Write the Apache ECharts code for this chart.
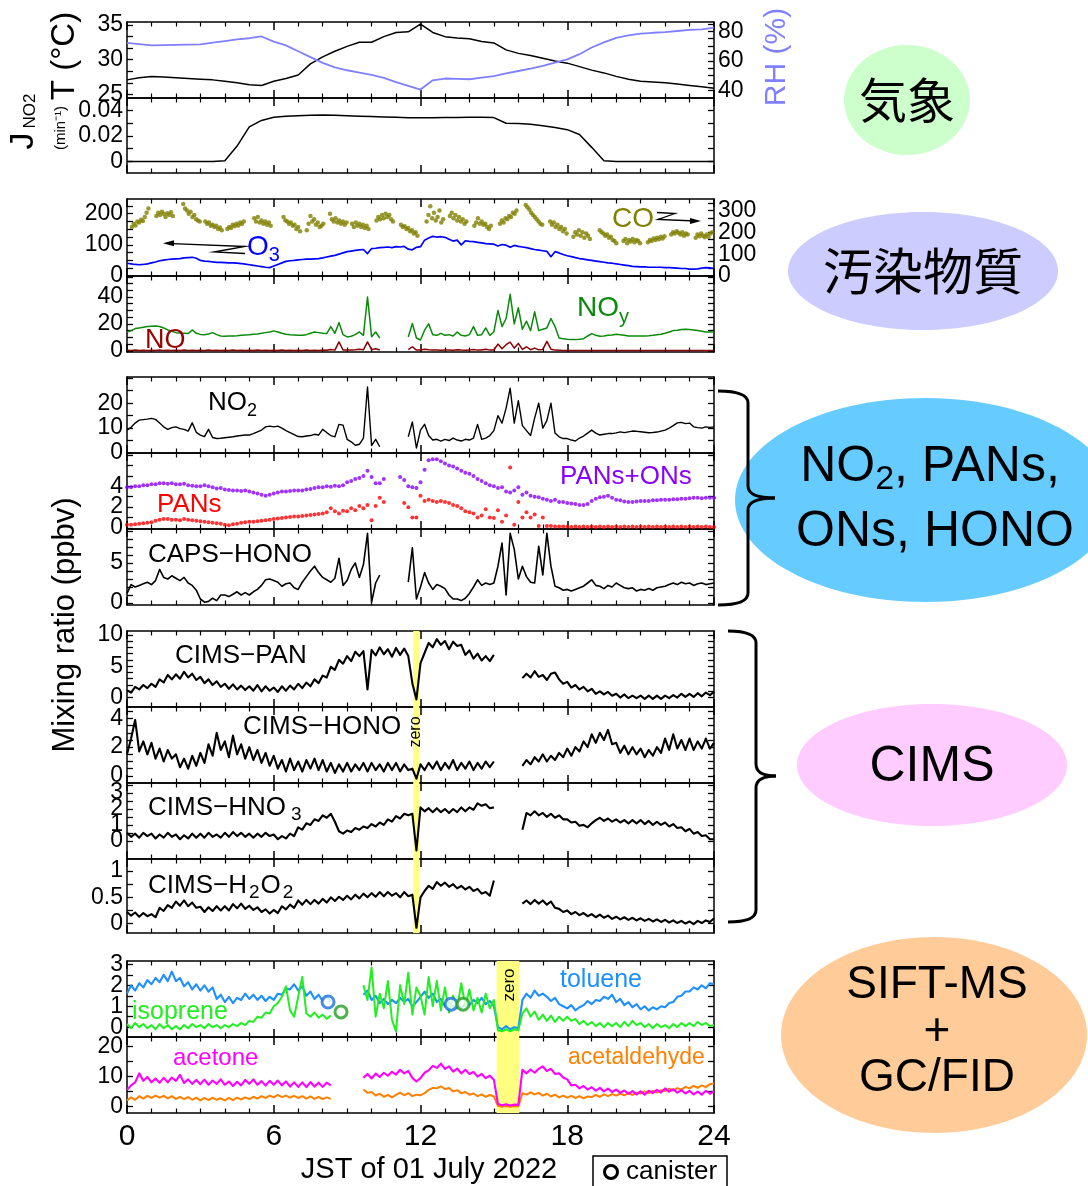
<!DOCTYPE html>
<html><head><meta charset="utf-8">
<script src="https://cdn.jsdelivr.net/npm/echarts@6/dist/echarts.min.js"></script>
<style>html,body{margin:0;padding:0;background:#fff}#c{width:1088px;height:1186px}</style>
</head><body><div id="c"></div><script>
// ---------- measurement records, 01 July 2022 (JST) ----------
const STEP30 = 0.5;      // half-hourly records
const STEP10 = 1 / 6;    // 10-minute records

const tempC = [27.1,27.4,27.6,27.5,27.4,27.3,27.2,27.1,26.9,26.7,26.4,26.3,26.9,27.3,27.8,29.4,30.4,31.2,31.9,32.5,32.5,33.3,33.9,34.0,35.1,33.9,33.3,33.1,33.0,32.6,32.4,31.4,30.9,30.6,30.2,29.8,29.5,29.0,28.5,28.1,27.6,27.2,26.9,26.8,26.7,26.5,26.3,26.1,25.9];
const rhPct = [72.1,71.3,70.5,70.6,70.8,71.0,71.2,72.3,73.4,74.5,75.3,76.5,73.0,70.5,66.5,62.5,58.6,55.6,53.6,52.0,50.4,48.5,45.6,43.0,40.5,46.8,48.0,47.8,47.5,48.6,49.6,51.5,53.1,54.7,56.5,58.8,61.0,64.5,69.0,72.5,75.5,77.2,78.4,79.0,79.4,80.2,81.0,81.3,82.5];
const jNO2 = [0,0,0,0,0,0,0,0,0.0005,0.012,0.027,0.032,0.0345,0.0352,0.0357,0.036,0.0362,0.036,0.0356,0.0352,0.035,0.0347,0.0344,0.0341,0.034,0.0341,0.0342,0.0343,0.0344,0.0344,0.0342,0.0298,0.0296,0.029,0.0278,0.0265,0.0248,0.021,0.011,0.0005,0,0,0,0,0,0,0,0,0];

const o3 = [
 41,39,37,36,37,39, 42,45,49,51,53,54, 55,56,58,59,60,57, 50,48,47,45,44,44,
 43,42,42,41,40,38, 36,34,32,30,28,27, 32,37,42,47,49,50, 52,53,54,54,55,56,
 58,61,64,66,70,74, 78,80,82,84,85,72, 88,89,91,92,93,91, 94,93,95,86,84,92,
 94,115,122,127,125,126, 124,118,112,115,100,113, 111,110,108,106,104,103, 102,96,101,99,92,98,
 95,93,91,88,85,83, 81,79,62,78,74,69, 65,62,59,56,54,52, 50,48,46,44,42,41,
 39,37,35,33,31,30, 29,29,28,28,28,28, 27,27,26,25,24,24, 22,22,23,25,27,26,
 24];

// CO: one run of readings per sampling window
const coStart = [0.2,1.2,2.3,3.2,4.1,5.2,6.4,7.35,8.3,9.2,10.2,11.2,12.25,13.2,14.2,15.25,16.3,17.3,18.25,19.33,20.3,21.3,22.25,23.25];
const coStepMin = 4.5;
const coRuns = [
 [225,240,232,250,245,258,252,270,290,310],
 [275,290,280,295,285,270,288,280,292,275],
 [330,310,300,285,295,270,280,260,255,250],
 [250,240,245,230,235,225,230,215,222,210],
 [215,225,220,235,228,240,232,245,238,250],
 [265,250,270,245,255,240,250,235,245,230],
 [270,255,250,240,245,230,235,215,225,205],
 [210,240,275,250,260,235,245,225,230,240],
 [285,260,250,265,245,255,240,250,235,245],
 [240,225,245,230,240,225,235,220,230,215],
 [255,270,260,280,265,285,270,280,260,250],
 [235,225,228,215,220,205,210,195,200,185],
 [250,280,320,265,290,255,270,300,245,260],
 [275,290,265,280,255,270,250,260,240,250],
 [230,245,265,240,250,235,240,225,215,230],
 [240,255,245,265,260,275,270,290,285,300],
 [325,315,305,290,280,270,260,250,240,235],
 [250,235,245,225,235,215,225,205,215,195],
 [180,200,190,210,185,200,175,195,185,170],
 [210,200,195,185,190,175,180,165,160,150],
 [160,170,150,165,158,170,155,165,160,150],
 [155,165,160,172,165,175,168,180,172,182],
 [190,200,195,205,198,190,200,185,195,190],
 [175,190,182,195,185,178,190,180,195,200]];

const noy = [
 14,15,16.5,17,17.5,18, 18.3,18.5,18,17,15.5,14.5, 13.5,13.2,13,12.8,15.5,13, 12.2,12,12.5,13.5,12,11,
 10.8,11,11,11.2,11.5,11.8, 12,12.3,12.5,13,13.5,14, 14.8,14,13,12.3,12,11.8, 11.6,11.5,12,13,14,13.5,
 13,12.8,18,13,21,12, 10.3,10.8,12,14,11.5,40, 10.5,14,9.5,null,null,null, null,null,null,10.3,20.3,9.5,
 8,15.3,20,12,11.5,13, 11.5,12,11,14,11.5,11, 12,18,11.5,12,17,11.5, 14,30,18,24,42,20,
 32,16,22,15,29,15, 16,17,24,18,9.5,9, 8.5,8.3,8.3,8.5,9,11, 12.8,11.5,10.8,11,11.5,11.8,
 12.3,12,11.5,11,11,11, 11,11,11.2,11.5,12,12.3, 13,14,15,15.3,15.8,16, 15.8,15.5,15,14.5,14,14,
 14];
const no = [
 0.4,0.3,0.5,0.3,0.4,0.3, 0.4,0.3,0.5,0.3,0.4,0.3, 0.4,0.3,0.5,0.3,0.4,0.3, 0.4,0.3,0.5,0.3,0.4,0.3,
 0.4,0.3,0.5,0.3,0.4,0.3, 0.4,0.3,0.5,0.3,0.4,0.3, 0.4,0.3,0.5,0.3,0.4,0.3, 0.4,0.3,0.5,0.3,0.4,0.3,
 0.5,0.4,1.0,0.5,6.6,0.6, 0.5,0.6,0.8,1.2,0.7,6.6, 0.8,1.5,0.6,null,null,null, null,null,null,0.8,3.0,0.5,
 0.6,1.2,0.8,0.5,0.6,0.4, 0.5,0.6,0.4,0.7,0.5,0.4, 0.5,1.0,0.5,0.6,1.2,0.5, 0.6,5.0,1.5,4.5,6.5,2.0,
 5.5,1.0,3.0,0.8,2.0,0.7, 1.0,7.0,1.2,0.5,0.4,0.3, 0.3,0.2,0.3,0.2,0.3,0.2, 0.3,0.2,0.3,0.2,0.3,0.2,
 0.3,0.2,0.3,0.2,0.3,0.2, 0.3,0.2,0.3,0.2,0.3,0.2, 0.3,0.2,0.3,0.2,0.3,0.2, 0.3,0.2,0.3,0.2,0.3,0.2,
 0.3];

const no2 = [
 9.2,10.3,12,13.2,13.4,13.6, 13.9,13.5,12,10.5,9.5,10.2, 10.5,9.8,9.5,8.8,12.1,8.3, 7.2,6.6,9.5,6.2,5.8,5.9,
 6.1,6.3,6.5,6.8,7,7.2, 7.2,7.8,8.5,9.2,10.5,10.8, 10.5,10.8,10,9,8.2,7.4, 6.6,6.5,6.8,7,7.5,7.2,
 9.5,8.2,7,6.5,11.5,11.2, 5.5,4.5,3.1,3.5,6,26.5, 3,5.5,2.5,null,null,null, null,null,null,6.5,12.5,2,
 9.2,11.5,7,5.2,5.5,4.8, 5.5,5,6,5.2,4.8,5.5, 5.2,6,11.5,5.5,6,7, 9,15,12,18,26,12,
 21,11,9,7,14,20, 10,13,20,8,6.5,5.8, 5.8,5.2,4.8,6,6.8,8, 9.2,8,7.2,7.5,7.8,7.8,
 8.1,8.5,8.2,8.5,8.8,8.7, 8.5,8.3,8.1,8.2,8.4,8.8, 9.2,10,11,12.1,12.3,11.8, 12,10.5,10.2,10,10.5,10.3,
 10.5];

const pansOns = [
 3.9,3.9,4.0,4.0,4.1,4.1, 4.2,4.2,4.3,4.3,4.25,4.3, 4.2,4.2,4.25,4.1,4.05,4.0, 4.0,4.1,4.0,3.9,3.8,3.85,
 3.7,3.65,3.6,3.6,3.55,3.6, 3.5,3.4,3.3,3.2,3.1,3.2, 3.3,3.4,3.5,3.5,3.55,3.6, 3.6,3.6,3.7,3.75,3.85,3.9,
 3.9,4.0,3.95,4.05,4.0,4.1, 4.4,4.5,4.7,4.8,5.0,5.5, 4.9,4.3,4.3,4.7,null,null, null,4.9,4.6,4.0,3.9,3.85,
 4.4,5.6,6.5,6.6,6.6,6.4, 6.2,6.0,5.9,5.7,5.5,5.3, 5.2,5.0,4.7,4.5,4.3,4.1, 4.0,3.85,3.9,3.5,3.4,3.6,
 3.9,3.2,3.4,3.1,3.0,2.95, 2.8,2.7,2.6,2.7,2.5,2.5, 2.4,2.35,2.3,2.2,2.2,2.3, 2.6,2.8,2.95,3.0,3.1,2.9,
 2.7,2.65,2.55,2.5,2.5,2.55, 2.6,2.6,2.6,2.65,2.65,2.7, 2.7,2.7,2.75,2.75,2.8,2.8, 2.85,2.9,2.9,2.85,2.9,2.9,
 2.9];
const pans = [
 0.3,0.3,0.35,0.4,0.45,0.5, 0.55,0.7,0.8,0.85,0.85,0.8, 0.8,0.75,0.85,0.8,0.75,0.7, 0.65,0.6,0.55,0.5,0.45,0.4,
 0.3,0.25,0.35,0.4,0.5,0.55, 0.6,0.6,0.65,0.7,0.75,0.8, 0.85,0.9,0.95,1.0,1.05,1.1, 1.1,1.15,1.2,1.25,1.3,1.35,
 1.4,1.5,1.9,1.6,1.4,1.65, 1.6,1.9,1.7,2.1,1.9,2.2, 0.75,2.1,2.9,2.5,null,null, null,null,2.4,2.0,1.0,1.0,
 3.1,2.6,2.7,2.6,2.5,2.6, 2.5,2.4,2.2,2.1,1.9,1.6, 1.5,1.4,1.0,1.2,1.8,1.0, 0.95,1.7,0.6,1.2,5.8,0.3,
 2.5,1.0,1.5,1.0,1.3,0.2, 1.0,0.2,0.2,0.15,0.15,0.15, 0.15,0.1,0.15,0.1,0.15,0.1, 0.15,0.1,0.15,0.1,0.15,0.1,
 0.15,0.1,0.15,0.1,0.15,0.1, 0.15,0.1,0.15,0.1,0.15,0.1, 0.15,0.1,0.15,0.1,0.15,0.1, 0.15,0.1,0.15,0.1,0.15,0.1,
 0.1];

const capsHono = [
 1.2,2.3,2.0,2.2,2.4,2.6, 2.3,2.8,4.2,3.2,3.0,3.4, 3.1,2.8,3.2,2.5,2.2,1.6, 0.5,0.1,0.2,0.6,0.3,1.0,
 1.0,0.8,1.1,1.4,1.0,1.3, 1.0,1.4,1.7,2.2,2.9,3.0, 2.8,2.6,2.1,2.4,2.5,1.9, 1.7,2.6,3.3,4.0,4.6,3.8,
 3.2,2.9,2.6,3.1,5.6,2.2, 2.8,4.2,5.0,3.2,4.8,8.7, 0.1,2.5,3.5,null,null,null, null,null,null,2.6,6.9,0.5,
 2.0,3.8,2.5,1.7,2.3,2.1, 1.8,1.0,0.5,0.5,0.3,0.6, 1.2,2.0,2.9,2.2,2.5,2.3, 2.5,4.6,7.5,1.0,8.7,6.7,
 3.0,4.6,3.3,2.6,2.5,7.1, 3.5,8.7,4.6,2.1,1.9,1.6, 1.7,1.5,1.7,1.9,2.1,2.5, 2.9,2.2,2.1,1.8,2.2,2.0,
 2.5,2.2,1.9,1.8,1.9,1.5, 1.7,1.6,1.8,1.6,1.9,2.0, 2.1,2.3,2.5,2.3,2.6,2.4, 2.5,2.2,2.4,2.5,2.3,2.4,
 2.5];

const cimsPan = [
 1.2,0.8,1.7,1.3,2.0,1.5, 2.2,1.7,2.9,2.4,3.6,2.9, 3.7,3.0,4.1,3.2,3.8,2.8, 3.3,2.3,2.9,2.0,2.6,1.7,
 2.2,1.4,2.1,1.3,1.9,1.2, 1.8,1.1,2.0,1.0,1.8,1.1, 1.6,0.9,1.8,1.1,1.9,1.3, 2.2,1.5,2.4,1.8,2.9,2.3,
 3.5,3.2,4.9,4.4,6.0,5.4, 6.6,5.8,7.3,6.6,7.4,1.3, 7.6,6.7,8.0,6.9,7.7,6.5, 7.9,6.8,7.8,6.6,2.3,-0.3,
 5.5,7.1,8.7,8.0,9.3,8.4, 9.0,7.7,8.9,8.2,8.4,6.8, 7.5,6.2,7.0,5.9,6.6,5.8, 6.8,null,null,null,null,null,
 null,3.1,3.8,3.2,4.2,3.3, 3.6,2.8,3.8,4.0,2.9,2.2, 2.5,1.6,2.0,1.3,1.7,1.0, 1.4,0.6,1.0,0.5,0.9,0.3,
 0.6,0.0,0.5,-0.1,0.3,-0.1, 0.3,-0.2,0.3,-0.2,0.3,-0.2, 0.3,-0.1,0.4,0.0,0.6,0.1, 0.6,0.1,0.7,0.2,0.8,0.4,
 0.9];
const cimsHono = [
 1.5,2.6,3.9,1.7,2.4,1.5, 2.3,1.2,1.9,1.0,1.8,1.2, 1.5,0.6,1.2,0.5,1.4,0.7, 1.6,0.9,2.2,1.4,3.0,1.8,
 2.4,1.3,2.8,1.5,2.2,1.2, 2.0,1.1,1.8,0.9,1.6,0.7, 1.4,0.5,1.1,0.3,1.2,0.4, 1.0,0.3,1.1,0.5,1.2,0.4,
 1.1,0.3,0.9,0.2,0.8,0.3, 0.9,0.3,0.8,0.4,0.9,0.3, 0.9,0.4,0.8,0.3,0.9,0.4, 0.9,0.3,0.8,0.4,0.5,-0.2,
 0.8,0.4,0.9,0.5,1.0,0.4, 0.9,0.5,1.1,0.4,0.9,0.5, 1.0,0.4,0.9,0.5,1.0,0.6, 1.0,null,null,null,null,null,
 null,0.7,1.1,0.8,1.3,1.0, 1.5,1.0,1.4,1.1,1.6,1.3, 1.9,1.4,2.0,1.7,2.4,2.0, 2.9,2.3,3.0,2.5,3.2,2.2,
 2.3,1.6,2.1,1.5,2.0,1.5, 1.9,1.3,1.8,1.4,2.0,1.6, 2.6,1.8,2.9,1.9,2.5,1.8, 2.6,1.8,2.4,1.9,2.6,1.9,
 2.3];
const cimsHno3 = [
 0.5,0.25,0.45,0.2,0.5,0.3, 0.45,0.15,0.4,0.2,0.5,0.25, 0.4,0.1,0.35,0.15,0.45,0.2, 0.45,0.2,0.5,0.25,0.4,0.2,
 0.5,0.25,0.55,0.3,0.5,0.25, 0.45,0.2,0.45,0.25,0.5,0.3, 0.4,0.1,0.3,0.15,0.45,0.3, 0.85,0.7,1.1,1.0,1.35,1.25,
 1.6,1.45,1.7,1.2,0.6,0.45, 0.65,0.55,0.8,0.7,0.9,0.8, 1.05,0.9,1.15,1.0,1.35,1.2, 1.55,1.4,1.7,1.6,1.7,-0.6,
 2.1,1.85,2.05,1.8,2.05,1.8, 2.0,1.75,2.0,1.8,2.1,1.85, 2.1,1.95,2.35,2.2,2.3,2.05, 2.1,null,null,null,null,null,
 null,0.7,1.75,1.6,1.85,1.6, 1.75,1.5,1.7,1.45,1.6,1.35, 1.35,1.15,1.2,0.95,1.0,0.85, 1.1,1.3,1.45,1.25,1.4,1.2,
 1.35,1.15,1.3,1.1,1.3,1.1, 1.3,1.05,1.25,1.0,1.2,1.0, 1.15,0.9,1.05,0.8,0.85,0.6, 0.75,0.45,0.55,0.3,0.35,0.1,
 0.1];
const cimsH2o2 = [
 0.22,0.15,0.21,0.13,0.2,0.14, 0.18,0.12,0.3,0.24,0.35,0.3, 0.42,0.34,0.44,0.33,0.4,0.3, 0.32,0.22,0.31,0.24,0.33,0.25,
 0.33,0.25,0.37,0.29,0.38,0.28, 0.34,0.26,0.31,0.22,0.27,0.19, 0.26,0.2,0.33,0.27,0.36,0.3, 0.44,0.36,0.45,0.37,0.45,0.38,
 0.47,0.4,0.5,0.43,0.51,0.45, 0.53,0.46,0.55,0.48,0.57,0.5, 0.58,0.51,0.6,0.52,0.6,0.53, 0.58,0.5,0.6,0.52,0.55,-0.08,
 0.5,0.62,0.72,0.66,0.79,0.72, 0.78,0.7,0.75,0.67,0.72,0.65, 0.7,0.62,0.66,0.57,0.6,0.53, 0.82,null,null,null,null,null,
 null,0.38,0.44,0.37,0.45,0.38, 0.44,0.36,0.42,0.3,0.28,0.22, 0.25,0.18,0.22,0.16,0.2,0.14, 0.18,0.12,0.17,0.11,0.15,0.09,
 0.13,0.08,0.12,0.07,0.11,0.06, 0.1,0.05,0.09,0.04,0.08,0.03, 0.07,0.02,0.06,0.01,0.05,0.0, 0.04,-0.01,0.05,0.01,0.06,0.03,
 0.1];

const toluene = [
 1.6,2.0,1.75,2.1,1.9,2.25, 2.05,2.35,2.15,2.5,2.2,2.65, 2.2,2.35,1.95,2.15,1.8,2.05, 1.75,2.0,1.7,1.9,1.35,1.55,
 1.2,1.45,1.15,1.4,1.3,1.6, 1.35,1.55,1.3,1.5,1.25,1.45, 1.3,1.6,1.55,1.85,1.8,2.05, 1.75,1.95,1.5,1.7,1.35,1.55,
 1.25,1.45,1.2,null,null,null, null,null,null,null,1.55,1.75, 1.3,1.5,1.15,1.35,1.1,1.3, 1.15,1.4,1.2,1.35,1.0,1.2,
 1.45,1.7,1.4,1.6,1.2,1.35, 1.0,1.2,0.95,1.15,0.9,1.1, 1.05,1.3,1.15,1.4,1.1,1.25, 1.0,0.0,-0.1,0.05,-0.1,0.0,
 -0.05,1.3,1.6,1.4,1.75,1.5, 1.6,1.45,1.25,1.4,1.1,1.0, 0.9,1.05,0.8,0.95,1.05,1.25, 1.1,1.3,1.25,1.45,1.35,1.55,
 1.2,1.35,1.05,1.2,0.95,1.1, 0.85,1.0,0.8,0.95,0.85,1.0, 0.95,1.15,1.2,1.45,1.5,1.7, 1.7,1.9,1.8,2.0,1.85,2.1,
 2.05];
const isoprene = [
 0.15,-0.05,0.2,0.0,0.15,-0.05, 0.1,-0.1,0.15,-0.05,0.1,-0.1, 0.05,-0.1,0.1,-0.05,0.15,0.0, 0.1,-0.05,0.15,0.0,0.1,-0.05,
 0.1,0.0,0.15,0.05,0.2,0.1, 0.3,0.25,0.5,0.45,0.7,0.65, 1.0,1.15,1.45,1.95,0.8,0.5, 1.45,2.4,0.65,0.5,0.7,0.45,
 0.6,0.4,0.55,null,null,null, null,null,null,null,2.0,1.3, 2.85,0.5,1.6,0.9,2.2,0.35, -0.2,2.0,1.1,2.6,0.6,1.9,
 1.5,0.6,2.4,1.0,2.2,0.8, 1.9,0.7,1.5,0.9,2.1,1.0, 1.8,0.8,1.4,0.7,1.6,0.9, 1.3,-0.15,-0.2,-0.1,-0.2,-0.1,
 -0.15,0.65,0.9,0.5,0.75,0.35, 0.6,0.3,0.55,0.25,0.5,0.3, 0.5,0.3,0.4,0.15,0.3,0.1, 0.25,0.05,0.2,0.0,0.2,0.05,
 0.2,0.0,0.25,0.05,0.3,0.1, 0.2,0.0,0.15,-0.05,0.15,0.0, 0.1,-0.05,0.15,0.0,0.2,0.05, 0.2,0.05,0.25,0.1,0.2,0.05,
 0.1];
const acetone = [
 5.5,7.0,8.0,11.0,8.5,9.8, 8.0,9.3,7.9,9.5,8.0,9.6, 8.5,10.5,7.8,9.0,7.5,8.8, 7.4,8.9,7.2,8.6,7.5,9.0,
 7.2,8.3,6.8,8.2,7.0,8.8, 7.5,9.0,7.2,8.4,6.9,8.5, 7.2,8.6,7.0,8.3,6.6,8.0, 6.5,8.0,6.4,8.1,6.6,7.9,
 6.5,7.9,7.0,null,null,null, null,null,null,null,9.5,10.8, 9.3,10.9,9.8,11.2,10.2,11.5, 10.6,12.2,11.0,11.8,9.5,8.3,
 9.4,11.2,12.0,13.5,12.8,14.2, 12.5,13.3,11.6,12.6,11.0,12.2, 10.8,11.5,9.9,10.8,9.4,10.2, 8.9,0.8,0.4,0.7,0.3,0.6,
 0.5,12.2,11.0,12.3,11.2,12.5, 13.3,11.8,12.5,10.8,11.0,9.6, 9.0,7.0,7.2,6.0,6.8,5.6, 6.4,5.2,6.2,5.0,5.9,4.8,
 5.6,4.5,5.3,4.2,5.1,4.0, 5.0,3.9,5.2,4.4,5.5,4.6, 6.0,4.9,5.7,4.6,5.4,4.3, 5.2,4.0,4.9,3.9,5.2,4.2,
 5.0];
const acetaldehyde = [
 2.0,3.0,2.2,3.4,2.6,3.5, 2.8,3.6,2.9,3.5,2.7,3.4, 2.5,3.2,2.4,3.1,2.2,2.9, 2.0,2.8,2.1,2.9,2.2,2.7,
 2.0,2.8,2.1,2.9,2.3,3.0, 2.4,3.2,2.6,3.4,2.8,3.6, 3.0,3.8,3.1,3.6,2.9,3.5, 2.8,3.4,2.6,3.3,2.5,3.2,
 2.4,3.0,2.5,null,null,null, null,null,null,null,5.6,4.5, 4.8,3.6,4.2,3.2,3.8,3.0, 3.8,4.6,3.7,4.4,3.4,3.9,
 3.7,4.4,5.5,6.2,6.0,6.7, 5.8,6.1,5.0,5.4,4.4,4.8, 3.9,4.3,3.4,4.0,3.2,3.8, 3.3,0.2,-0.1,0.1,-0.1,0.1,
 0.0,4.4,3.9,4.7,4.0,4.5, 3.6,4.2,3.3,3.9,3.0,3.6, 2.9,3.5,2.8,3.4,2.7,3.3, 3.1,3.8,3.2,4.0,3.4,4.1,
 3.6,4.2,3.7,4.4,3.8,4.5, 4.3,5.0,4.4,5.2,4.6,5.4, 5.1,5.9,5.3,6.1,5.6,6.5, 6.0,6.8,6.2,7.0,6.4,7.4,
 7.6];

const canisterToluene = [[8.22, 1.2], [13.25, 1.1]];
const canisterIsoprene = [[8.75, 0.73], [13.74, 1.1]];
const zeroCims = [11.70, 11.95];
const zeroSift = [15.11, 16.04];

// axis ranges, tick positions and labelled ticks for each stacked panel
const panels = [
 {top:22,  h:76, min:24.5,  max:35.4,  ticks:[25,26.667,28.333,30,31.667,33.333,35], labels:[25,30,35],
  right:{min:34.8, max:86.3, ticks:[40,45,50,55,60,65,70,75,80,85], labels:[40,60,80]}},
 {top:98,  h:75, min:-0.009,max:0.0495,ticks:[0,0.01,0.02,0.03,0.04], labels:[0,0.02,0.04]},
 {top:199, h:77, min:0,     max:247,   ticks:[0,25,50,75,100,125,150,175,200,225], labels:[0,100,200],
  right:{min:0, max:353, ticks:[0,33.3,66.7,100,133.3,166.7,200,233.3,266.7,300,333.3], labels:[0,100,200,300]}},
 {top:276, h:76, min:-0.9,  max:55.6,  ticks:[0,5,10,15,20,25,30,35,40,45,50,55], labels:[0,20,40]},
 {top:377, h:76, min:0,     max:30.5,  ticks:[0,5,10,15,20,25,30], labels:[0,10,20]},
 {top:453, h:76, min:-0.1,  max:7.2,   ticks:[0,1,2,3,4,5,6,7], labels:[0,2,4]},
 {top:529, h:76, min:-0.25, max:9.25,  ticks:[0,1,2,3,4,5,6,7,8,9], labels:[0,5]},
 {top:631, h:76, min:-1.5,  max:10.6,  ticks:[0,1,2,3,4,5,6,7,8,9,10], labels:[0,5,10]},
 {top:707, h:76, min:-0.5,  max:4.8,   ticks:[0,0.5,1,1.5,2,2.5,3,3.5,4,4.5], labels:[0,2,4]},
 {top:783, h:76, min:-1.14, max:3.63,  ticks:[0,0.5,1,1.5,2,2.5,3,3.5], labels:[0,1,2,3]},
 {top:859, h:74, min:-0.18, max:1.23,  ticks:[0,0.25,0.5,0.75,1], labels:[0,0.5,1]},
 {top:961, h:76, min:-0.47, max:3.16,  ticks:[0,0.5,1,1.5,2,2.5,3], labels:[0,1,2,3]},
 {top:1037,h:76, min:-2.2,  max:23.1,  ticks:[0,5,10,15,20], labels:[0,10,20]}
];

// ---------- chart construction ----------
const FONT = "'Liberation Sans', Arial, Helvetica, sans-serif";
const CJK = "'Noto Sans CJK JP', 'Noto Sans CJK SC', sans-serif";
const BLACK = '#000';

const at = (arr, step) => arr.map((v, i) => [+(i * step).toFixed(4), v]);
const coPoints = coStart.flatMap((s, k) => coRuns[k].map((v, j) => [s + j * coStepMin / 60, v]));

const grids = panels.map(p => ({left:127, width:587, top:p.top, height:p.h}));
const xAxes = [], yAxes = [];
panels.forEach((p, i) => {
  ['bottom', 'top'].forEach(pos => {
    xAxes.push({type:'value', gridIndex:i, position:pos, min:0, max:24, interval:6,
      axisLine:{show:true, onZero:false, lineStyle:{color:BLACK, width:1.5}},
      axisTick:{show:true, inside:true, length:8, lineStyle:{color:BLACK, width:1.5}},
      minorTick:{show:true, splitNumber:6, length:4.5, lineStyle:{color:BLACK, width:1.2}},
      axisLabel:{show: pos === 'bottom' && i === panels.length - 1, fontSize:30, color:BLACK, margin:9, fontFamily:FONT},
      splitLine:{show:false}, minorSplitLine:{show:false}});
  });
  const r = p.right || {min:p.min, max:p.max, ticks:p.ticks, labels:[]};
  [['left', p], ['right', r]].forEach(([pos, c]) => {
    yAxes.push({type:'value', gridIndex:i, position:pos, min:c.min, max:c.max,
      axisLine:{show:true, onZero:false, lineStyle:{color:BLACK, width:1.5}},
      axisTick:{show:true, inside:true, length:6, customValues:c.ticks, lineStyle:{color:BLACK, width:1.3}},
      axisLabel:{show:false},   // tick numbers are placed below, from the same axis scale
      splitLine:{show:false}});
  });
});

function line(data, gi, color, width, right, extra) {
  return Object.assign({type:'line', data, xAxisIndex:2*gi, yAxisIndex:2*gi + (right ? 1 : 0),
    showSymbol:false, symbol:'none', silent:true, connectNulls:false,
    lineStyle:{color, width, join:'round'}, itemStyle:{color}}, extra || {});
}
function dots(data, gi, color, size, right) {
  return {type:'scatter', data, xAxisIndex:2*gi, yAxisIndex:2*gi + (right ? 1 : 0),
    symbol:'circle', symbolSize:size, silent:true, itemStyle:{color}};
}
const band = (range) => ({silent:true, itemStyle:{color:'#ffff80'}, data:[[{xAxis:range[0]}, {xAxis:range[1]}]]});

const series = [
  line(at(tempC, STEP30), 0, BLACK, 1.5),
  line(at(rhPct, STEP30), 0, '#8080ff', 1.8, true),
  line(at(jNO2, STEP30), 1, BLACK, 1.5),
  dots(coPoints, 2, '#808000', 4.5, true),
  line(at(o3, STEP10), 2, '#0000ff', 1.7),
  line(at(noy, STEP10), 3, '#0a8a0a', 1.5),
  line(at(no, STEP10), 3, '#8b0000', 1.5),
  line(at(no2, STEP10), 4, BLACK, 1.4),
  dots(at(pansOns, STEP10), 5, '#8800ff', 4),
  dots(at(pans, STEP10), 5, '#ff0000', 4),
  line(at(capsHono, STEP10), 6, BLACK, 1.6),
  line(at(cimsPan, STEP10), 7, BLACK, 2.1, false, {markArea:band(zeroCims)}),
  line(at(cimsHono, STEP10), 8, BLACK, 2.1, false, {markArea:band(zeroCims)}),
  line(at(cimsHno3, STEP10), 9, BLACK, 2.1, false, {markArea:band(zeroCims)}),
  line(at(cimsH2o2, STEP10), 10, BLACK, 2.1, false, {markArea:band(zeroCims)}),
  line(at(toluene, STEP10), 11, '#1e8fff', 2.1, false, {markArea:band(zeroSift)}),
  line(at(isoprene, STEP10), 11, '#22ee22', 2.0),
  line(at(acetaldehyde, STEP10), 12, '#ff8000', 2.0, false, {markArea:band(zeroSift)}),
  line(at(acetone, STEP10), 12, '#ff00ff', 2.1),
  {type:'scatter', data:canisterToluene, xAxisIndex:22, yAxisIndex:22, symbol:'circle', symbolSize:12, silent:true, z:5,
   itemStyle:{color:'#ffffff', borderColor:'#1a6fdc', borderWidth:3}},
  {type:'scatter', data:canisterIsoprene, xAxisIndex:22, yAxisIndex:22, symbol:'circle', symbolSize:12, silent:true, z:5,
   itemStyle:{color:'#ffffff', borderColor:'#22a022', borderWidth:3}}
];

// ---------- annotations ----------
const mctx = document.createElement('canvas').getContext('2d');
function textW(s, size, fam) { mctx.font = size + 'px ' + (fam || FONT); return mctx.measureText(s).width; }
const G = [];
function tx(x, y, text, size, color, o) {
  o = o || {};
  G.push({type:'text', x, y, rotation:o.rot || 0, z:o.z || 20, silent:true,
    style:{text, fontSize:size, fontFamily:o.fam || FONT, fill:color, align:o.align || 'left', verticalAlign:'middle'}});
}
// text built from runs of [string, size, vertical offset, gap before]
function runs(x, y, parts, color, align, fam) {
  const total = parts.reduce((s, p) => s + textW(p[0], p[1], fam) + (p[3] || 0), 0);
  let cx = align === 'center' ? x - total / 2 : x;
  parts.forEach(p => { cx += (p[3] || 0); tx(cx, y + (p[2] || 0), p[0], p[1], color, {fam}); cx += textW(p[0], p[1], fam); });
}
function ellipse(cx, cy, rx, ry, fill) {
  G.push({type:'ellipse', shape:{cx, cy, rx, ry}, style:{fill}, z:1, silent:true});
}
function poly(points, width) {
  G.push({type:'polyline', shape:{points}, style:{stroke:BLACK, lineWidth:width || 1.3, fill:null}, z:20, silent:true});
}
function head(points) {
  G.push({type:'polygon', shape:{points}, style:{fill:BLACK}, z:20, silent:true});
}
function brace(xo, xs, xt, y1, ym, y2) {
  const st = {stroke:BLACK, lineWidth:3, fill:null};
  const q = (a, b, c, d, e, f) => G.push({type:'bezierCurve', shape:{x1:a, y1:b, cpx1:c, cpy1:d, x2:e, y2:f}, style:st, z:20, silent:true});
  const l = (a, b, c, d) => G.push({type:'line', shape:{x1:a, y1:b, x2:c, y2:d}, style:st, z:20, silent:true});
  q(xo, y1, xs, y1, xs, y1 + 12); l(xs, y1 + 12, xs, ym - 12);
  q(xs, ym - 12, xs, ym, xt, ym); q(xt, ym, xs, ym, xs, ym + 12);
  l(xs, ym + 12, xs, y2 - 12); q(xs, y2 - 12, xs, y2, xo, y2);
}

// axis titles
tx(65, 56, 'T (°C)', 33, BLACK, {rot:Math.PI/2, align:'center'});
tx(24, 141, 'J', 34, BLACK, {rot:Math.PI/2, align:'center'});
tx(30, 111, 'NO2', 17, BLACK, {rot:Math.PI/2, align:'center'});
tx(61, 128, '(min\u207B\u00B9)', 15, BLACK, {rot:Math.PI/2, align:'center'});
tx(777, 57, 'RH (%)', 30, '#8080ff', {rot:Math.PI/2, align:'center'});
tx(65, 625, 'Mixing ratio (ppbv)', 31, BLACK, {rot:Math.PI/2, align:'center'});
tx(429, 1170, 'JST of 01 July 2022', 29, BLACK, {align:'center'});

// series names
runs(247, 247, [['O', 28], ['3', 20, 8]], '#0000ff');
poly([[166, 243.3], [245, 246.5], [214, 252], [245, 253.5]]);
head([[163, 243.2], [174, 240.2], [174, 246.2]]);
tx(612, 219, 'CO', 28, '#808000');
poly([[657, 212.5], [675, 213.5], [658, 219.5], [696, 221]]);
head([[701, 221], [690, 218], [690, 224]]);
tx(145, 341, 'NO', 27, '#990000');
runs(577, 308, [['NO', 28], ['y', 20, 9]], '#0a8a0a');
runs(208, 403, [['NO', 26], ['2', 18, 8]], BLACK);
tx(157, 505, 'PANs', 26, '#ff0000');
tx(560, 477, 'PANs+ONs', 26, '#8800ff');
tx(148, 555, 'CAPS\u2212HONO', 26, BLACK);
tx(175, 656, 'CIMS\u2212PAN', 26, BLACK);
tx(243, 727, 'CIMS\u2212HONO', 26, BLACK);
runs(148, 808, [['CIMS\u2212HNO', 26], ['3', 19, 7, 5]], BLACK);
runs(148, 886, [['CIMS\u2212H', 26], ['2', 19, 7, 2], ['O', 26, 0, 1], ['2', 19, 7, 2]], BLACK);
tx(416, 732, 'zero', 16, BLACK, {rot:Math.PI/2, align:'center'});
tx(509, 985, 'zero', 17, BLACK, {rot:Math.PI/2, align:'center'});
tx(560, 980, 'toluene', 25, '#1e8fff');
tx(132, 1012, 'isoprene', 25, '#22ee22');
tx(173, 1058, 'acetone', 24, '#ff00ff');
tx(568, 1058, 'acetaldehyde', 23, '#ff8000');

// canister legend
G.push({type:'rect', shape:{x:593, y:1156, width:134, height:40}, style:{fill:'#fff', stroke:BLACK, lineWidth:1.5}, z:15, silent:true});
G.push({type:'circle', shape:{cx:611, cy:1172, r:6.5}, style:{fill:null, stroke:BLACK, lineWidth:3}, z:20, silent:true});
tx(626, 1172, 'canister', 26, BLACK);

// instrument groups
ellipse(907, 100, 63, 55, '#ccffcc');
tx(907, 100, '気象', 48, BLACK, {align:'center', fam:CJK});
ellipse(923, 271, 135, 59, '#ccccff');
tx(923, 271, '汚染物質', 50, BLACK, {align:'center', fam:CJK});
ellipse(925, 500, 190, 102, '#66ccff');
runs(930, 467, [['NO', 50], ['2', 34, 13], [', PANs,', 50]], BLACK, 'center');
tx(935, 532, 'ONs, HONO', 50, BLACK, {align:'center'});
ellipse(932, 765, 135, 61, '#ffccff');
tx(932, 767, 'CIMS', 50, BLACK, {align:'center'});
ellipse(934, 1035, 153, 98, '#ffcc99');
tx(937, 985, 'SIFT-MS', 46, BLACK, {align:'center'});
tx(937, 1032, '+', 46, BLACK, {align:'center'});
tx(937, 1078, 'GC/FID', 46, BLACK, {align:'center'});
brace(718, 748, 775, 391, 498, 605);
brace(728, 756, 776, 631, 776, 922);

const chart = echarts.init(document.getElementById('c'), null, {renderer:'canvas'});
chart.setOption({
  animation:false,
  backgroundColor:'#fff',
  textStyle:{fontFamily:FONT},
  grid:grids, xAxis:xAxes, yAxis:yAxes, series
});

// y tick numbers, positioned through each panel's own y scale
panels.forEach((p, i) => {
  p.labels.forEach(v => {
    const y = chart.convertToPixel({yAxisIndex:2*i}, v);
    tx(123, y, String(v), 23, BLACK, {align:'right'});
  });
  if (p.right) p.right.labels.forEach(v => {
    const y = chart.convertToPixel({yAxisIndex:2*i + 1}, v);
    tx(718, y, String(v), 23, BLACK, {align:'left'});
  });
});
chart.setOption({graphic:G});
</script></body></html>
